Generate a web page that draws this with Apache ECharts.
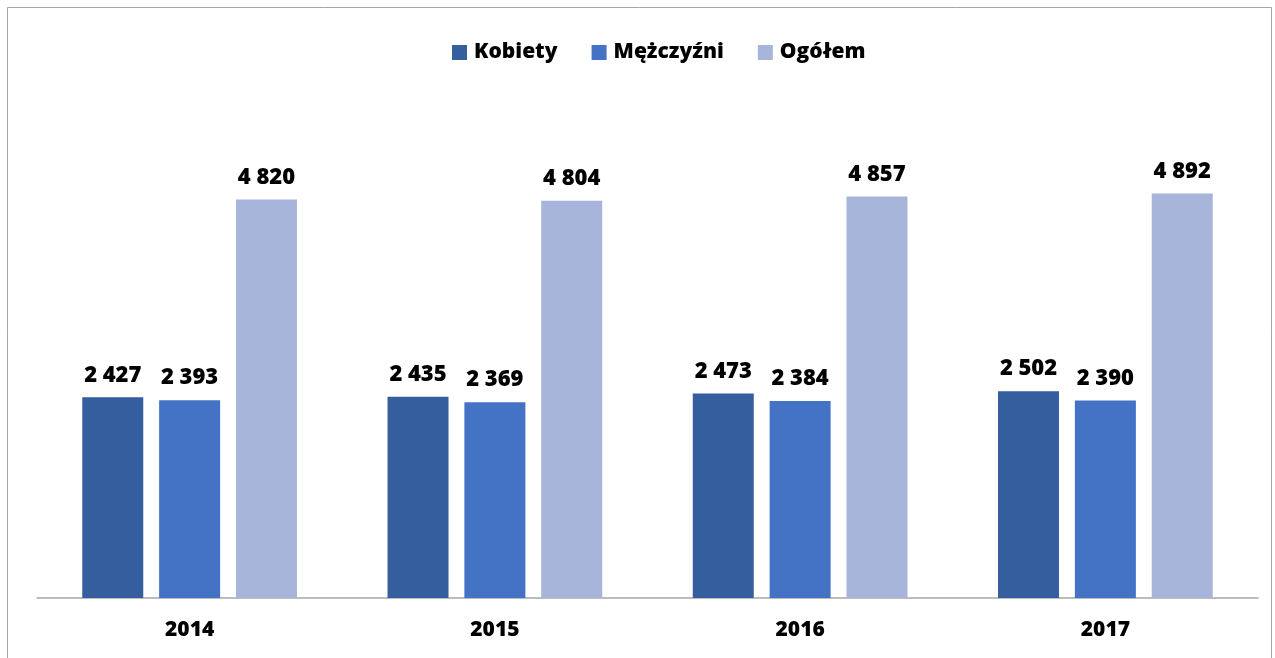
<!DOCTYPE html>
<html><head><meta charset="utf-8">
<script src="https://cdn.jsdelivr.net/npm/echarts@6/dist/echarts.min.js"></script>
<style>html,body{margin:0;padding:0;background:#fff}#c{width:1275px;height:658px}</style>
</head><body><div id="c"></div>
<script>
const categories = ['2014', '2015', '2016', '2017'];
const kobiety = [2427, 2435, 2473, 2502];
const mezczyzni = [2393, 2369, 2384, 2390];
const ogolem = [4820, 4804, 4857, 4892];
const seriesNames = ['Kobiety', 'Mężczyźni', 'Ogółem'];

const font = '"Open Sans", "Noto Sans", sans-serif';
const fmt = v => String(v.value).replace(/\B(?=(\d{3})+(?!\d))/g, ' ');
const colors = ['#355E9F', '#4472C4', '#A7B5DA'];
const mk = (name, data, i) => ({
  name, type: 'bar', data, barWidth: 61, barGap: '26%',
  itemStyle: { color: colors[i] },
  label: { show: true, position: 'top', distance: 11, formatter: fmt,
    fontFamily: font, fontWeight: 800, fontSize: 22, color: '#000' }
});
const chart = echarts.init(document.getElementById('c'));
chart.setOption({
  animation: false,
  graphic: [{ type: 'rect', shape: { x: 7.5, y: 7.5, width: 1264, height: 660 },
    style: { fill: 'none', stroke: '#A6A6A6', lineWidth: 1 } }],
  legend: { top: 37, left: 447, itemWidth: 15, itemHeight: 15, itemGap: 34,
    icon: 'rect',
    textStyle: { fontFamily: font, fontWeight: 800, fontSize: 21, color: '#000', padding: [0, 0, 0, 2] },
    data: seriesNames },
  grid: { left: 37, right: 17, top: 102, bottom: 60 },
  xAxis: { type: 'category', data: categories,
    axisLine: { lineStyle: { color: '#A6A6A6', width: 1.5 } },
    axisTick: { show: false },
    axisLabel: { margin: 22, fontFamily: font, fontWeight: 800, fontSize: 21, color: '#000' } },
  yAxis: { type: 'value', min: 0, max: 6000, show: false, splitLine: { show: false } },
  series: [mk(seriesNames[0], kobiety, 0), mk(seriesNames[1], mezczyzni, 1), mk(seriesNames[2], ogolem, 2)]
});
</script></body></html>
